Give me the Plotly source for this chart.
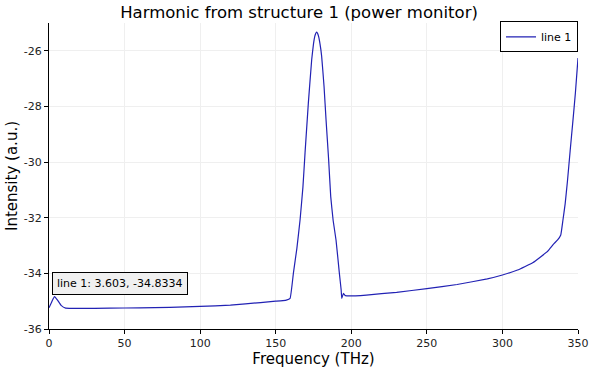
import plotly.graph_objects as go

freq = [0, 2, 3.603, 5.5, 8, 11, 20, 40, 60, 80, 100, 120, 140, 150, 157, 159.5,
        161.7, 164, 166.1, 168, 169.4, 171.6, 173.8, 175, 176, 177.1, 178.2, 179.3,
        180.4, 182, 183.3, 185, 186.4, 188, 189.9, 192.1, 193.3, 193.7, 194.8, 196,
        197, 210, 230, 250, 270, 290, 300, 310, 320, 325, 330, 333.8, 336.5, 338.6,
        340, 341.5, 343, 344.8, 346.5, 348.3, 350]
intensity = [-35.24, -35.0, -34.8334, -34.95, -35.15, -35.25, -35.26, -35.25, -35.24,
             -35.22, -35.19, -35.14, -35.05, -35.0, -34.96, -34.9,
             -33.99, -33.1, -32.08, -30.9, -29.67, -27.87, -26.32, -25.75, -25.45,
             -25.33, -25.45, -25.75, -26.2, -27.3, -28.48, -29.9, -31.24, -32.1,
             -32.8, -33.99, -34.6, -34.9, -34.72, -34.8, -34.81,
             -34.78, -34.68, -34.55, -34.4, -34.2, -34.06, -33.88, -33.62, -33.42,
             -33.2, -32.95, -32.8, -32.62, -32.1, -31.5, -30.7, -29.6, -28.6,
             -27.5, -26.26]

x_ticks = [0, 50, 100, 150, 200, 250, 300, 350]
x_labels = ["0", "50", "100", "150", "200", "250", "300", "350"]
y_ticks = [-36, -34, -32, -30, -28, -26]
y_labels = ["-36", "-34", "-32", "-30", "-28", "-26"]

fig = go.Figure()
fig.add_trace(go.Scatter(x=freq, y=intensity, mode="lines", name="line 1",
                         line=dict(color="#2222b4", width=1.2, shape="spline",
                                   smoothing=0.3)))

fig.add_annotation(x=3.603, y=-34.8334, text="line 1: 3.603, -34.8334",
                   showarrow=False, xanchor="left", yanchor="bottom",
                   xshift=-2, yshift=2,
                   font=dict(family="DejaVu Sans", size=11, color="#000"),
                   bgcolor="#f0f0f0", bordercolor="#000", borderwidth=1,
                   borderpad=4)

fig.update_layout(
    width=598, height=372,
    margin=dict(l=49, r=20, t=23, b=43),
    paper_bgcolor="white", plot_bgcolor="white",
    title=dict(text="Harmonic from structure 1 (power monitor)",
               x=0.5, xanchor="center", xref="container", y=0.968, yanchor="middle",
               yref="container",
               font=dict(family="DejaVu Sans", size=16.5, color="#000")),
    showlegend=True,
    legend=dict(x=1, y=1.005, xanchor="right", yanchor="top",
                bgcolor="white", bordercolor="#000", borderwidth=1,
                font=dict(family="DejaVu Sans", size=11, color="#000"),
                itemwidth=30, tracegroupgap=0),
    font=dict(family="DejaVu Sans", color="#000"),
)
fig.update_xaxes(range=[0, 350], tickvals=x_ticks, ticktext=x_labels, automargin=False,
                 showline=True, linecolor="#000",
                 linewidth=1, ticks="outside", ticklen=4, tickcolor="#000",
                 showgrid=True, gridcolor="#efefef", zeroline=False,
                 tickfont=dict(family="DejaVu Sans", size=11, color="#222"),
                 title=dict(text="Frequency (THz)", font=dict(size=15), standoff=2))
fig.update_yaxes(range=[-36, -25], tickvals=y_ticks, ticktext=y_labels, automargin=False,
                 showline=True, linecolor="#000",
                 linewidth=1, ticks="outside", ticklen=4, tickcolor="#000",
                 showgrid=True, gridcolor="#efefef", zeroline=False,
                 tickfont=dict(family="DejaVu Sans", size=11, color="#222"),
                 title=dict(text="Intensity (a.u.)", font=dict(size=15), standoff=2))

fig.write_html("out.html", config={"displayModeBar": False},
               post_script="document.body.style.margin='0';")
